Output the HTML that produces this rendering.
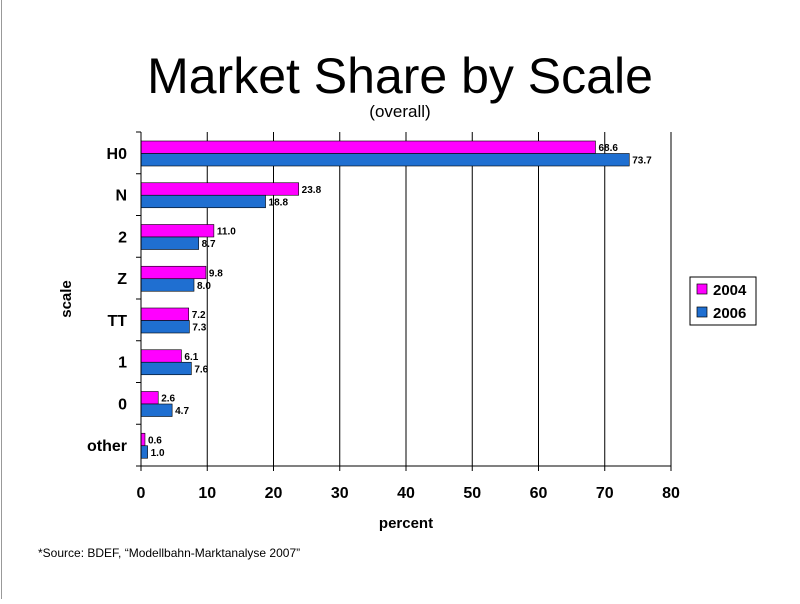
<!DOCTYPE html>
<html><head><meta charset="utf-8"><style>
body{margin:0;background:#fff;font-family:"Liberation Sans",Arial,sans-serif}
</style></head><body>
<svg width="800" height="599" xmlns="http://www.w3.org/2000/svg" font-family="Liberation Sans, Arial, sans-serif">
<line x1="1.5" y1="0" x2="1.5" y2="599" stroke="#999"/>
<text x="400" y="93" text-anchor="middle" font-size="50">Market Share by Scale</text>
<text x="400" y="117" text-anchor="middle" font-size="17">(overall)</text>
<g id="plot"></g>
<text x="406" y="528" text-anchor="middle" font-size="15" font-weight="bold">percent</text>
<text transform="translate(71,299) rotate(-90)" text-anchor="middle" font-size="15" font-weight="bold">scale</text>
<g>
<rect x="690" y="277" width="66" height="48" fill="#fff" stroke="#000"/>
<rect x="697" y="284" width="10" height="10" fill="#ff00ff" stroke="#000" stroke-width="0.7"/>
<text x="713" y="295" font-size="15" font-weight="bold">2004</text>
<rect x="697" y="307" width="10" height="10" fill="#1f6fd1" stroke="#000" stroke-width="0.7"/>
<text x="713" y="318" font-size="15" font-weight="bold">2006</text>
</g>
<text x="38" y="557" font-size="12">*Source: BDEF, “Modellbahn-Marktanalyse 2007”</text>
</svg>
<script>
const categories=["H0","N","2","Z","TT","1","0","other"];
const values2004=[68.6,23.8,11.0,9.8,7.2,6.1,2.6,0.6];
const values2006=[73.7,18.8,8.7,8.0,7.3,7.6,4.7,1.0];
const xTicks=[0,10,20,30,40,50,60,70,80];
const L=141,R=671,T=132,B=466,XMAX=80;
const NS="http://www.w3.org/2000/svg";
const g=document.getElementById('plot');
const x=v=>L+(v/XMAX)*(R-L);
const band=(B-T)/categories.length;
function mk(t,a,txt){const e=document.createElementNS(NS,t);for(const k in a)e.setAttribute(k,a[k]);if(txt!==undefined)e.textContent=txt;g.appendChild(e);return e;}
xTicks.forEach(t=>{
  if(t>0){const l=mk('line',{x1:x(t),x2:x(t),y1:T,y2:B,stroke:'#000','stroke-width':1});
  
  }
  const tl=mk('text',{x:x(t),y:B+32,'text-anchor':'middle','font-size':16,'font-weight':'bold'},String(t));
  
  
  const tk=mk('line',{x1:x(t),x2:x(t),y1:B,y2:B+5,stroke:'#000'});
  
  
});
for(let i=0;i<=categories.length;i++){
  const y=T+i*band;
  const tk=mk('line',{x1:L-5,x2:L,y1:y,y2:y,stroke:'#000'});
  
  
}
categories.forEach((c,i)=>{
  const y0=T+i*band;
  const lab=mk('text',{x:L-14,y:y0+band/2+6,'text-anchor':'end','font-size':16,'font-weight':'bold'},c);
  
  
  [[values2004[i],'#ff00ff','2004',9],[values2006[i],'#1f6fd1','2006',21.5]].forEach(([v,col,s,off])=>{
    const r=mk('rect',{x:L,y:y0+off,width:x(v)-L,height:12.5,fill:col,stroke:'#000','stroke-width':0.6});
    
    
    const t=mk('text',{x:x(v)+3,y:y0+off+10,'font-size':10,'font-weight':'bold'},v.toFixed(1));
    
    
  });
});
const ax=mk('line',{x1:L,x2:L,y1:T,y2:B,stroke:'#000'});


const ax2=mk('line',{x1:L,x2:R,y1:B,y2:B,stroke:'#000'});


</script>
</body></html>
